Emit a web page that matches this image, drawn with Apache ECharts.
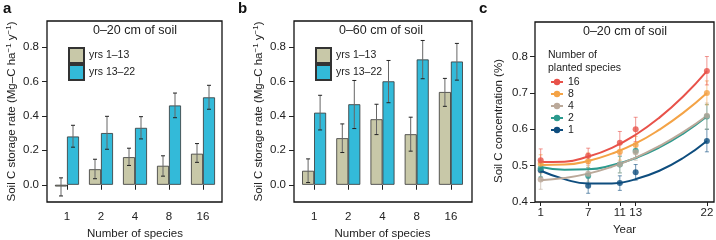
<!DOCTYPE html>
<html>
<head>
<meta charset="utf-8">
<script src="https://cdn.jsdelivr.net/npm/echarts@6/dist/echarts.min.js"></script>
<style>
html,body{margin:0;padding:0;background:#fff;}
#chart{width:716px;height:240px;}
</style>
</head>
<body>
<div id="chart"></div>
<script>
// panels a, b: soil C storage rate by number of species
var species = ['1', '2', '4', '8', '16'];
var rateTicks = [0, 0.2, 0.4, 0.6, 0.8];

var aEarly   = [-0.01, 0.09, 0.16, 0.11, 0.18];
var aEarlyLo = [-0.065, 0.035, 0.112, 0.05, 0.13];
var aEarlyHi = [0.04, 0.148, 0.212, 0.168, 0.239];
var aLate    = [0.28, 0.30, 0.33, 0.46, 0.507];
var aLateLo  = [0.218, 0.206, 0.266, 0.389, 0.438];
var aLateHi  = [0.345, 0.397, 0.395, 0.532, 0.577];

var bEarly   = [0.081, 0.27, 0.38, 0.293, 0.538];
var bEarlyLo = [0.013, 0.187, 0.291, 0.195, 0.455];
var bEarlyHi = [0.15, 0.353, 0.467, 0.392, 0.617];
var bLate    = [0.418, 0.467, 0.60, 0.727, 0.715];
var bLateLo  = [0.318, 0.326, 0.476, 0.615, 0.607];
var bLateHi  = [0.519, 0.605, 0.721, 0.837, 0.82];

// panel c: soil C concentration over time
var years = [1, 7, 11, 13, 22];
var yearTicks = [1, 7, 11, 13, 22];
var concTicks = [0.4, 0.5, 0.6, 0.7, 0.8];
var fitYears = [1, 4, 7, 10, 13, 16, 19, 22];

var c16   = [0.515, 0.527, 0.563, 0.600, 0.760];
var c16Lo = [0.485, 0.505, 0.532, 0.566, 0.722];
var c16Hi = [0.546, 0.548, 0.594, 0.633, 0.800];
var c16Fit = [0.510, 0.511, 0.525, 0.549, 0.585, 0.632, 0.690, 0.760];

var c8   = [0.505, 0.512, 0.538, 0.557, 0.700];
var c8Lo = [0.480, 0.490, 0.515, 0.535, 0.667];
var c8Hi = [0.530, 0.535, 0.560, 0.580, 0.733];
var c8Fit = [0.502, 0.503, 0.513, 0.533, 0.561, 0.599, 0.645, 0.700];

var c4   = [0.462, 0.478, 0.504, 0.537, 0.637];
var c4Lo = [0.435, 0.455, 0.480, 0.515, 0.600];
var c4Hi = [0.490, 0.500, 0.528, 0.560, 0.672];
var c4Fit = [0.460, 0.466, 0.478, 0.497, 0.522, 0.554, 0.592, 0.637];

var c2   = [0.493, 0.472, 0.503, 0.541, 0.635];
var c2Lo = [0.470, 0.450, 0.480, 0.520, 0.600];
var c2Hi = [0.515, 0.495, 0.525, 0.560, 0.668];
var c2Fit = [0.496, 0.489, 0.490, 0.501, 0.521, 0.550, 0.588, 0.635];

var c1   = [0.487, 0.445, 0.452, 0.482, 0.568];
var c1Lo = [0.467, 0.424, 0.432, 0.460, 0.538];
var c1Hi = [0.507, 0.466, 0.472, 0.503, 0.600];
var c1Fit = [0.486, 0.463, 0.451, 0.451, 0.463, 0.486, 0.521, 0.568];

var FONT = '"Liberation Sans", Arial, sans-serif';
var INK = '#222';
var BEIGE = '#c8c8a8';
var BLUE = '#33bad9';

var chart = echarts.init(document.getElementById('chart'));

function zip3(xs, lo, hi) {
    return xs.map(function (x, i) { return [x, lo[i], hi[i]]; });
}
var catIdx = species.map(function (s, i) { return i; });

function errBars(offset, stroke, capColor, capW, opacity) {
    return function (params, api) {
        var x = api.value(0);
        var lo = api.coord([x, api.value(1)]);
        var hi = api.coord([x, api.value(2)]);
        var cx = lo[0] + offset;
        var h = capW / 2;
        return {
            type: 'group',
            children: [
                {type: 'line', shape: {x1: cx, y1: lo[1], x2: cx, y2: hi[1]}, style: {stroke: stroke, lineWidth: 1, opacity: opacity}},
                {type: 'line', shape: {x1: cx - h, y1: lo[1], x2: cx + h, y2: lo[1]}, style: {stroke: capColor, lineWidth: 1, opacity: opacity}},
                {type: 'line', shape: {x1: cx - h, y1: hi[1], x2: cx + h, y2: hi[1]}, style: {stroke: capColor, lineWidth: 1, opacity: opacity}}
            ]
        };
    };
}

var supRich = {
    sup: {fontSize: 8, verticalAlign: 'top', lineHeight: 14, fontFamily: FONT, color: INK}
};

function rateYAxis(grid, shown) {
    if (!shown) {
        return {gridIndex: grid, type: 'value', min: -0.1, max: 0.95, show: false, splitLine: {show: false}};
    }
    return {
        gridIndex: grid, type: 'value', min: -0.1, max: 0.95,
        axisLine: {show: false},
        axisTick: {show: true, length: 5, lineStyle: {color: INK}, customValues: rateTicks},
        axisLabel: {customValues: rateTicks, formatter: function (v) { return v.toFixed(1); }, margin: 8, fontSize: 11.5, color: INK},
        splitLine: {show: false},
        name: 'Soil C storage rate (Mg–C ha{sup|−1} y{sup|−1})',
        nameLocation: 'middle', nameGap: 28,
        nameTextStyle: {fontSize: 11.5, color: INK, lineHeight: 14, rich: supRich}
    };
}

function speciesXAxis(grid) {
    return {
        gridIndex: grid, type: 'category', data: species,
        axisLine: {show: false},
        axisTick: {show: true, alignWithLabel: true, length: 5, lineStyle: {color: INK}},
        axisLabel: {margin: 9, fontSize: 11.5, color: INK},
        name: 'Number of species', nameLocation: 'middle', nameGap: 24,
        nameTextStyle: {fontSize: 11.5, color: INK}
    };
}

var cGroups = [
    {name: '16', color: '#e8524a', pts: c16, lo: c16Lo, hi: c16Hi, fit: c16Fit},
    {name: '8', color: '#f4a346', pts: c8, lo: c8Lo, hi: c8Hi, fit: c8Fit},
    {name: '4', color: '#bba99a', pts: c4, lo: c4Lo, hi: c4Hi, fit: c4Fit},
    {name: '2', color: '#2b9a8e', pts: c2, lo: c2Lo, hi: c2Hi, fit: c2Fit},
    {name: '1', color: '#0e4d7e', pts: c1, lo: c1Lo, hi: c1Hi, fit: c1Fit}
];

var series = [
    {type: 'bar', name: 'yrs 1–13', xAxisIndex: 1, yAxisIndex: 1, data: aEarly, barWidth: 12, barGap: '0%',
     itemStyle: {color: BEIGE, borderColor: '#333', borderWidth: 0.8}},
    {type: 'bar', name: 'yrs 13–22', xAxisIndex: 1, yAxisIndex: 1, data: aLate, barWidth: 12, barGap: '0%',
     itemStyle: {color: BLUE, borderColor: '#333', borderWidth: 0.8}},
    {type: 'custom', xAxisIndex: 1, yAxisIndex: 1, z: 5, encode: {x: 0, y: [1, 2]},
     data: zip3(catIdx, aEarlyLo, aEarlyHi), renderItem: errBars(-6, '#666', '#222', 4, 1)},
    {type: 'custom', xAxisIndex: 1, yAxisIndex: 1, z: 5, encode: {x: 0, y: [1, 2]},
     data: zip3(catIdx, aLateLo, aLateHi), renderItem: errBars(6, '#666', '#222', 4, 1)},

    {type: 'bar', name: 'yrs 1–13', xAxisIndex: 3, yAxisIndex: 3, data: bEarly, barWidth: 12, barGap: '0%',
     itemStyle: {color: BEIGE, borderColor: '#333', borderWidth: 0.8}},
    {type: 'bar', name: 'yrs 13–22', xAxisIndex: 3, yAxisIndex: 3, data: bLate, barWidth: 12, barGap: '0%',
     itemStyle: {color: BLUE, borderColor: '#333', borderWidth: 0.8}},
    {type: 'custom', xAxisIndex: 3, yAxisIndex: 3, z: 5, encode: {x: 0, y: [1, 2]},
     data: zip3(catIdx, bEarlyLo, bEarlyHi), renderItem: errBars(-6, '#666', '#222', 4, 1)},
    {type: 'custom', xAxisIndex: 3, yAxisIndex: 3, z: 5, encode: {x: 0, y: [1, 2]},
     data: zip3(catIdx, bLateLo, bLateHi), renderItem: errBars(6, '#666', '#222', 4, 1)}
];

cGroups.slice().reverse().forEach(function (g) {
    series.push({
        type: 'custom', xAxisIndex: 4, yAxisIndex: 4, z: 3, encode: {x: 0, y: [1, 2]},
        data: zip3(years, g.lo, g.hi), renderItem: errBars(0, g.color, g.color, 4, 0.6)
    });
    series.push({
        type: 'line', name: g.name, xAxisIndex: 4, yAxisIndex: 4, z: 4,
        data: fitYears.map(function (y, i) { return [y, g.fit[i]]; }),
        smooth: 0.5, showSymbol: false, symbol: 'circle', symbolSize: 6,
        lineStyle: {color: g.color, width: 2}, itemStyle: {color: g.color}
    });
    series.push({
        type: 'scatter', name: 'pts' + g.name, xAxisIndex: 4, yAxisIndex: 4, z: 5,
        data: years.map(function (y, i) { return [y, g.pts[i]]; }),
        symbol: 'circle', symbolSize: 6, itemStyle: {color: g.color}
    });
});

var letterStyle = {fontSize: 15, fontWeight: 'bold', color: '#111'};
var headStyle = {fontSize: 12.5, fontWeight: 'normal', color: INK};

var option = {
    animation: false,
    textStyle: {fontFamily: FONT, color: INK},
    title: [
        {text: 'a', left: 3, top: 1, padding: 0, textStyle: letterStyle},
        {text: 'b', left: 238, top: 1, padding: 0, textStyle: letterStyle},
        {text: 'c', left: 479, top: 1, padding: 0, textStyle: letterStyle},
        {text: '0–20 cm of soil', left: 135, top: 24, padding: 0, textAlign: 'center', textStyle: headStyle},
        {text: '0–60 cm of soil', left: 381, top: 24, padding: 0, textAlign: 'center', textStyle: headStyle},
        {text: '0–20 cm of soil', left: 625, top: 25, padding: 0, textAlign: 'center', textStyle: headStyle},
        {text: 'Number of\nplanted species', left: 548, top: 49, padding: 0,
         textStyle: {fontSize: 10.5, lineHeight: 12.5, fontWeight: 'normal', color: INK}}
    ],
    legend: [
        {data: ['yrs 1–13', 'yrs 13–22'], orient: 'vertical', left: 68, top: 47, padding: 0,
         itemWidth: 15, itemHeight: 15, itemGap: 0, icon: 'rect',
         textStyle: {fontSize: 10.5, color: INK}, selectedMode: false},
        {data: ['yrs 1–13', 'yrs 13–22'], orient: 'vertical', left: 315, top: 47, padding: 0,
         itemWidth: 15, itemHeight: 15, itemGap: 0, icon: 'rect',
         textStyle: {fontSize: 10.5, color: INK}, selectedMode: false},
        {data: ['16', '8', '4', '2', '1'], orient: 'vertical', left: 550, top: 76.5, padding: 0,
         itemWidth: 12, itemHeight: 8, itemGap: 1, itemTextGap: 3,
         textStyle: {fontSize: 10.5, color: INK}, selectedMode: false}
    ],
    grid: [
        {left: 47, top: 21, width: 175, height: 181, outerBoundsMode: 'none', show: true, borderColor: '#111', borderWidth: 1.3},
        {left: 50, top: 21, width: 170, height: 181, outerBoundsMode: 'none'},
        {left: 294, top: 21, width: 178, height: 181, outerBoundsMode: 'none', show: true, borderColor: '#111', borderWidth: 1.3},
        {left: 297, top: 21, width: 171, height: 181, outerBoundsMode: 'none'},
        {left: 535, top: 22, width: 179, height: 180, outerBoundsMode: 'none', show: true, borderColor: '#111', borderWidth: 1.3}
    ],
    xAxis: [
        {gridIndex: 0, type: 'value', min: 0, max: 1, show: false, splitLine: {show: false}},
        speciesXAxis(1),
        {gridIndex: 2, type: 'value', min: 0, max: 1, show: false, splitLine: {show: false}},
        speciesXAxis(3),
        {
            gridIndex: 4, type: 'value', min: 0.28, max: 22.9,
            axisLine: {show: false},
            axisTick: {show: true, length: 4, lineStyle: {color: INK}, customValues: yearTicks},
            axisLabel: {customValues: yearTicks, margin: 5, fontSize: 11.5, color: INK},
            splitLine: {show: false},
            name: 'Year', nameLocation: 'middle', nameGap: 16,
            nameTextStyle: {fontSize: 11.5, color: INK}
        }
    ],
    yAxis: [
        rateYAxis(0, true),
        rateYAxis(1, false),
        rateYAxis(2, true),
        rateYAxis(3, false),
        {
            gridIndex: 4, type: 'value', min: 0.4, max: 0.895,
            axisLine: {show: false},
            axisTick: {show: true, length: 5, lineStyle: {color: INK}, customValues: concTicks},
            axisLabel: {customValues: concTicks, formatter: function (v) { return v.toFixed(1); }, margin: 7, fontSize: 11.5, color: INK},
            splitLine: {show: false},
            name: 'Soil C concentration (%)', nameLocation: 'middle', nameGap: 30,
            nameTextStyle: {fontSize: 11.5, color: INK, padding: [0, 18, 0, 0]}
        }
    ],
    series: series
};

chart.setOption(option);
</script>
</body>
</html>
